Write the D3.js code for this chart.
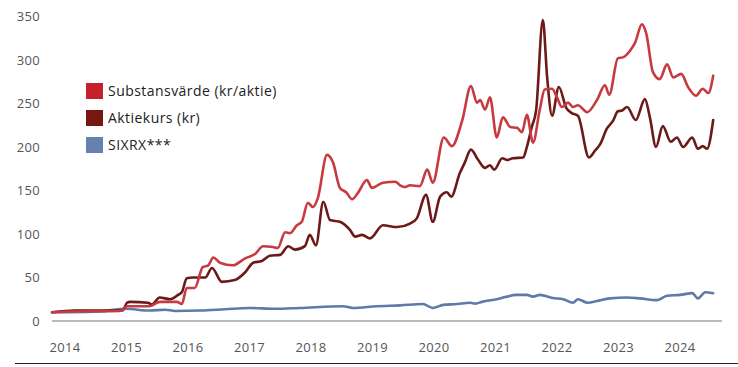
<!DOCTYPE html>
<html><head><meta charset="utf-8">
<script src="https://cdn.jsdelivr.net/npm/d3@7"></script>
<style>body{margin:0;background:#fff}svg{display:block}</style>
</head><body><svg id="c" width="738" height="367"></svg>
<script>
const yTicks=[0,50,100,150,200,250,300,350];
const xTicks=[2014,2015,2016,2017,2018,2019,2020,2021,2022,2023,2024];
const seriesNames=["Substansvärde (kr/aktie)","Aktiekurs (kr)","SIXRX***"];
const substansT=[2013.79,2014.16,2014.89,2014.94,2015.01,2015.38,2015.54,2015.82,2015.90,2015.98,2016.11,2016.24,2016.33,2016.41,2016.52,2016.73,2016.93,2017.09,2017.22,2017.38,2017.46,2017.58,2017.66,2017.77,2017.85,2017.95,2018.03,2018.11,2018.26,2018.36,2018.47,2018.57,2018.67,2018.76,2018.91,2018.99,2019.17,2019.37,2019.45,2019.53,2019.61,2019.77,2019.89,2019.98,2020.16,2020.29,2020.46,2020.60,2020.70,2020.75,2020.83,2020.91,2021.02,2021.12,2021.24,2021.35,2021.43,2021.51,2021.61,2021.72,2021.80,2021.92,2022.00,2022.08,2022.18,2022.26,2022.34,2022.49,2022.65,2022.78,2022.85,2022.99,2023.07,2023.19,2023.27,2023.38,2023.45,2023.56,2023.67,2023.79,2023.89,2024.02,2024.13,2024.26,2024.37,2024.46,2024.54];
const substansV=[10,11,11.5,12.5,17,17,22,22,19.5,38,38,62,64,73,67,64,72,77,86,85,84,102,101,110,114,136,131,141,191,182,153,148,140,147,162,153,159,160,156,154,156,155,174,159,211,201,231,270,251,254,243,257,211,234,223,222,217,237,205,243,266,267,257,246,251,246,248,240,254,271,260,302,303,311,320,341,331,286,278,295,280,284,269,259,267,262,282];
const aktieT=[2013.79,2014.16,2014.89,2014.94,2015.01,2015.06,2015.35,2015.41,2015.54,2015.71,2015.84,2015.90,2015.98,2016.08,2016.28,2016.39,2016.55,2016.76,2016.93,2017.06,2017.20,2017.33,2017.50,2017.63,2017.74,2017.90,2017.98,2018.08,2018.20,2018.31,2018.47,2018.63,2018.72,2018.83,2018.96,2019.17,2019.40,2019.61,2019.72,2019.87,2019.98,2020.10,2020.21,2020.28,2020.42,2020.50,2020.60,2020.72,2020.83,2020.91,2020.98,2021.11,2021.19,2021.28,2021.45,2021.51,2021.59,2021.66,2021.77,2021.84,2021.92,2022.03,2022.15,2022.24,2022.34,2022.52,2022.62,2022.70,2022.81,2022.91,2022.99,2023.06,2023.14,2023.28,2023.43,2023.51,2023.61,2023.72,2023.85,2023.95,2024.05,2024.20,2024.29,2024.37,2024.44,2024.54];
const aktieV=[10,12,12,12.5,21,22,21,19,27,25,30,33,49,50,50,61,45,47,56,67,69,75,76,86,82,86,99,87,137,116,114,105,97,99,95,110,108,112,118,145,114,143,148,143,170,182,197,185,176,179,174,187,185,187,188,200,223,242,346,280,236,269,245,239,236,188,196,203,221,230,241,242,246,231,255,234,200,224,206,211,200,211,198,201,198,231];
const sixrxT=[2013.79,2014.57,2014.98,2015.38,2015.63,2015.79,2016.2,2016.6,2017.0,2017.41,2017.82,2018.52,2018.68,2019.07,2019.45,2019.82,2019.98,2020.15,2020.37,2020.59,2020.67,2020.78,2021.02,2021.35,2021.51,2021.61,2021.72,2021.93,2022.10,2022.26,2022.34,2022.50,2022.65,2022.86,2023.14,2023.35,2023.63,2023.79,2024.0,2024.20,2024.29,2024.41,2024.54];
const sixrxV=[10,11,14,12,13,11.5,12,13.5,15,14,15,17,15,17,18,19.5,15,18.5,19.5,21,20,22,25,30,30,28,30,26.5,25,21,25,21,23,26,27,26,24,29,30,32,26,33,32];

const lineColors=["#c73a40","#6b1a18","#5f79a9"];
const legendColors=["#c8202a","#761812","#6680b0"];

const svg=d3.select("#c");
const x=d3.scaleLinear().domain([2014,2024]).range([65,680]);
const y=d3.scaleLinear().domain([0,350]).range([321,16.5]);
const font="'Open Sans', sans-serif";

svg.append("g").selectAll("text").data(yTicks).join("text")
  .attr("x",40).attr("y",d=>y(d)).attr("dy","0.35em").attr("text-anchor","end")
  .attr("font-family",font).attr("font-size",13).attr("letter-spacing",0.3).attr("fill","#555").text(d=>d);
svg.append("g").selectAll("text").data(xTicks).join("text")
  .attr("x",d=>x(d)).attr("y",347).attr("dy","0.35em").attr("text-anchor","middle")
  .attr("font-family",font).attr("font-size",13).attr("letter-spacing",0.3).attr("fill","#555").text(d=>d);
svg.append("line").attr("x1",52).attr("x2",722).attr("y1",y(0)).attr("y2",y(0)).attr("stroke","#777").attr("stroke-width",1);
svg.append("line").attr("x1",15).attr("x2",738).attr("y1",363.5).attr("y2",363.5).attr("stroke","#222").attr("stroke-width",1.2);

const line=d3.line().x(d=>x(d[0])).y(d=>y(d[1])).curve(d3.curveMonotoneX);
const series=[d3.zip(sixrxT,sixrxV),d3.zip(aktieT,aktieV),d3.zip(substansT,substansV)];
const cols=[lineColors[2],lineColors[1],lineColors[0]];
series.forEach((s,i)=>{
  svg.append("path").datum(s).attr("d",line).attr("fill","none")
    .attr("stroke",cols[i]).attr("stroke-width",2.6).attr("stroke-linejoin","round").attr("stroke-linecap","round");
});

const lg=svg.append("g");
seriesNames.forEach((n,i)=>{
  lg.append("rect").attr("x",86).attr("y",83+i*27).attr("width",17).attr("height",16).attr("fill",legendColors[i]);
  lg.append("text").attr("x",108).attr("y",91+i*27).attr("dy","0.35em")
    .attr("font-family",font).attr("font-size",14).attr("letter-spacing",0.45).attr("fill","#222").text(n);
});
</script></body></html>
